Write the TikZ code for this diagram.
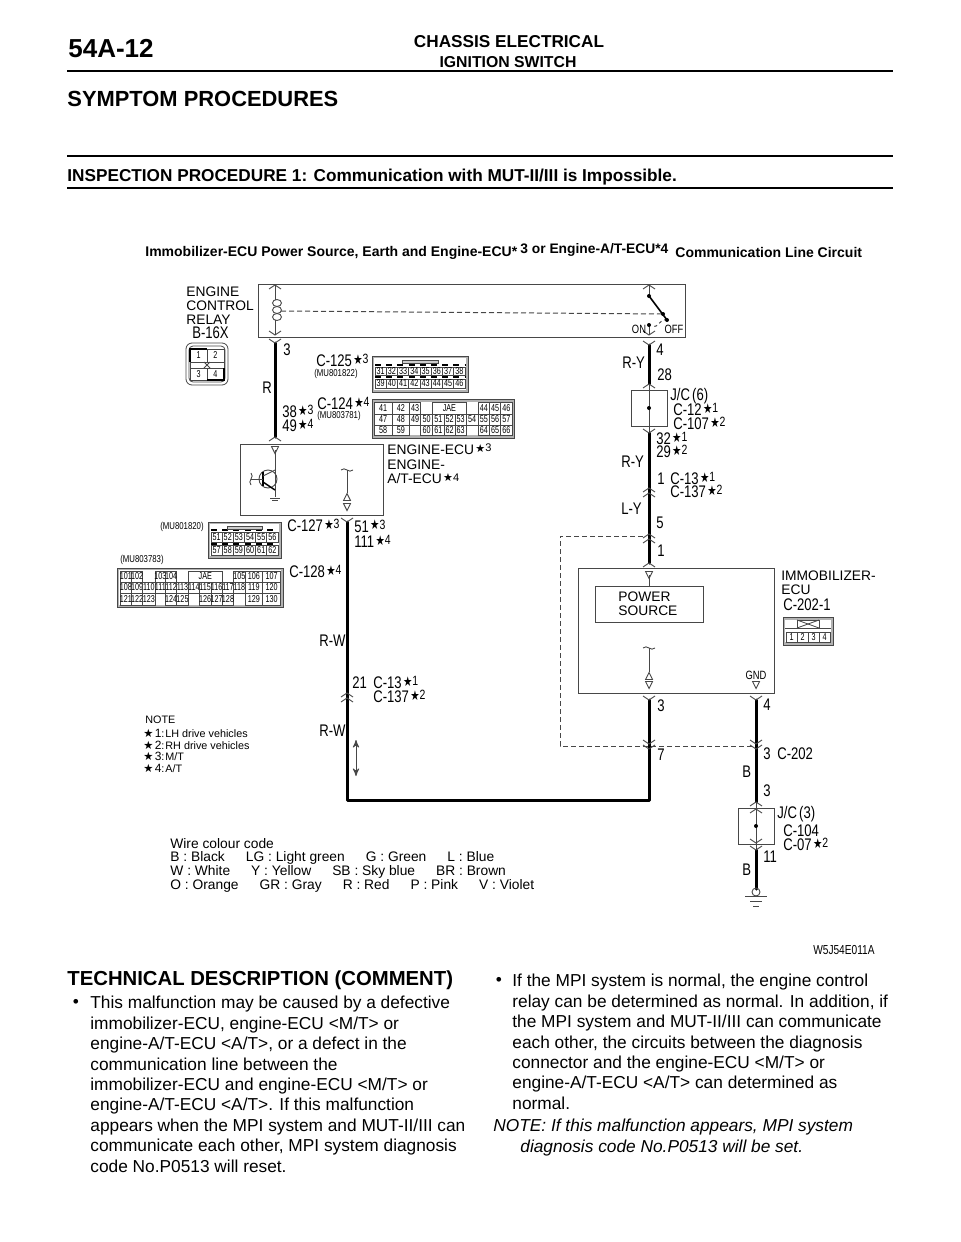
\documentclass[tikz,border=0pt]{standalone}
\usepackage{fontspec}
\usepackage{amsmath, color}
\setmainfont{Liberation Sans}
\newfontfamily\symfont{DejaVu Sans}
\usetikzlibrary{positioning}
\usetikzlibrary{calc}
\usetikzlibrary{arrows}
\definecolor{boxgray}{rgb}{0.28,0.28,0.28}
\newcommand{\stn}[1]{\hspace{.1em}\smash{{\symfont\raisebox{.3ex}{\scalebox{.8}{★}}}\raisebox{.4ex}{\scalebox{.8}{#1}}}}
\newcommand{\stb}[1]{{\symfont\scalebox{1.05}{★}}\hspace{.6pt}{\fontsize{6pt}{6pt}\selectfont #1}}
\newcommand{\pinrow}[4]{%
  \foreach \xa/\xb/\lab in {#4}{%
    \draw[pinline] (\xa,#2) rectangle (\xb,#3);
    \node[pinlab] (#1\lab) at ($(\xa,#2)!.5!(\xb,#3)$) {\lab};
  }%
}
\tikzset{
  pics/chevup/.style={code={\draw[thinwire] (-6,4) -- (0,0) -- (6,4);}},
  pics/chevdown/.style={code={\draw[thinwire] (-6,-4) -- (0,0) -- (6,-4);}},
  pics/dblup/.style={code={\draw[thinwire] (-6,4) -- (0,0) -- (6,4);
                           \draw[thinwire] (-6,9) -- (0,5) -- (6,9);}},
  pics/dbldown/.style={code={\draw[thinwire] (-6,-4) -- (0,0) -- (6,-4);
                             \draw[thinwire] (-6,-9) -- (0,-5) -- (6,-9);}},
  pics/tridown/.style={code={\draw[thinwire] (-3.5,-3.5) -- (3.5,-3.5) -- (0,3.5) -- cycle;}},
  pics/triup/.style={code={\draw[thinwire] (-3.5,3.5) -- (3.5,3.5) -- (0,-3.5) -- cycle;}},
  pics/wavy/.style={code={\draw[thinwire] (-6,0) .. controls (-2,-4) and (2,4) .. (6,0);}},
  pics/dotmark/.style={code={\fill (0,0) circle (2);}}
}
\begin{document}
\begin{tikzpicture}
	    [x=0.5pt, y=-0.5pt,
	    wire/.style={line width=1.5pt, line cap=round, line join=round},
	    thinwire/.style={line width=.45pt, draw=boxgray},
	    pinline/.style={line width=.4pt, draw=boxgray},
	    dashwire/.style={line width=.5pt, draw=boxgray, dash pattern=on 2.5pt off 1.5pt},
	    ecubox/.style={draw=boxgray, line width=.6pt, minimum size=0pt, inner sep=0pt, anchor=north west},
	    pinlab/.style={font=\fontsize{5pt}{5pt}\selectfont, xscale=.72, inner sep=0pt},
	    wirelab/.style={font=\fontsize{8.4pt}{9pt}\selectfont, xscale=.78, inner sep=0pt, anchor=west},
	    partlab/.style={font=\fontsize{5pt}{6pt}\selectfont, xscale=.78, inner sep=0pt, anchor=west},
	    namelab/.style={font=\fontsize{6.9pt}{7pt}\selectfont, inner sep=0pt, anchor=west},
	    notelab/.style={font=\fontsize{5.4pt}{6pt}\selectfont, inner sep=0pt, anchor=west},
	    colourlab/.style={font=\fontsize{6.9pt}{7pt}\selectfont, inner sep=0pt, anchor=west},
	    bodytext/.style={font=\fontsize{8.65pt}{10.2pt}\selectfont, align=left, inner sep=0pt, anchor=north west}]
	     \useasboundingbox (0,0) rectangle (960,1242);
	     % page head
	     \node[font=\fontsize{13pt}{14pt}\bfseries\selectfont, inner sep=0pt, anchor=west] (pageno) at (68,49) {54A-12};
	     \node[font=\fontsize{8.6pt}{9pt}\bfseries\selectfont, inner sep=0pt] (chassis) at (509,42) {CHASSIS ELECTRICAL};
	     \node[font=\fontsize{7.9pt}{8pt}\bfseries\selectfont, inner sep=0pt] (ignition) at (508,62) {IGNITION SWITCH};
	     \coordinate (ra) at (67,71); \coordinate (rb) at (893,71);
	     \coordinate (rc) at (67,156); \coordinate (rd) at (893,156);
	     \coordinate (re) at (67,188); \coordinate (rf) at (893,188);
	     \draw[line width=.7pt] (ra) -- (rb);
	     \draw[line width=.7pt] (rc) -- (rd);
	     \draw[line width=.7pt] (re) -- (rf);
	     \node[font=\fontsize{10.95pt}{11pt}\bfseries\selectfont, inner sep=0pt, anchor=west] (symptom) at (67,99) {SYMPTOM PROCEDURES};
	     \node[font=\fontsize{8.6pt}{9pt}\bfseries\selectfont, inner sep=0pt, anchor=west] (inspect) at (67,177) {INSPECTION PROCEDURE 1: Communication with MUT-II/III is Impossible.};
	     \node[font=\fontsize{7pt}{7pt}\bfseries\selectfont, inner sep=0pt, anchor=west] (capa) at (145,253) {Immobilizer-ECU Power Source, Earth and Engine-ECU*};
	     \node[font=\fontsize{6.9pt}{7pt}\bfseries\selectfont, inner sep=0pt, anchor=west] (capb) at (520,250) {3 or Engine-A/T-ECU*4};
	     \node[font=\fontsize{7pt}{7pt}\bfseries\selectfont, inner sep=0pt, anchor=west] (capc) at (675,252) {Communication Line Circuit};
	     % boxes
	     \node[ecubox, minimum width=213.5pt, minimum height=26.5pt] (relay) at (258,284) {};
	     \node[ecubox, minimum width=71.5pt, minimum height=35.5pt] (ecu) at (240,444) {};
	     \node[ecubox, minimum width=98pt, minimum height=62.5pt] (immo) at (578,568) {};
	     \node[ecubox, minimum width=54pt, minimum height=18pt] (power) at (595,586) {};
	     \node[ecubox, minimum width=18pt, minimum height=18pt] (jc6) at (631,390) {};
	     \node[ecubox, minimum width=18pt, minimum height=18pt] (jc3) at (738,808) {};
	     % relay inside
	     \coordinate (coiltop) at (275,285); \coordinate (coila) at (275,300);
	     \coordinate (coilb) at (275,320); \coordinate (coilbot) at (275,335);
	     \draw[thinwire] (coiltop) -- (coila);
	     \draw[thinwire] (coilb) -- (coilbot);
	     \foreach \yy in {303,310,317} \draw[thinwire] (277,\yy) ellipse (4.5 and 3.5);
	     \pic at (coiltop) {chevup};
	     \pic at (coilbot) {chevdown};
	     \coordinate (swa) at (649,296); \coordinate (swb) at (667,320);
	     \coordinate (swc) at (663,314); \coordinate (swd) at (649,325);
	     \coordinate (swtop) at (649,285); \coordinate (swbot) at (649,335);
	     \coordinate (coilm) at (281,311);
	     \draw[thinwire] (swtop) -- (swa);
	     \draw[thick] (swa) -- (swb);
	     \draw[thinwire] (swd) -- (swbot);
	     \draw[dashwire] (coilm) -- (swc);
	     \draw[dashwire, dash pattern=on 1.5pt off 1.5pt] (swb) to[out=150,in=-10] (652,327);
	     \pic at (swa) {dotmark};
	     \pic at (swb) {dotmark};
	     \pic at (swc) {dotmark};
	     \pic at (swd) {dotmark};
	     \pic at (swtop) {chevup};
	     \pic at (swbot) {chevdown};
	     \node[partlab, font=\fontsize{6pt}{7pt}\selectfont, anchor=center] (on) at (639,329) {ON};
	     \node[partlab, font=\fontsize{6pt}{7pt}\selectfont, anchor=center] (off) at (674,329) {OFF};
	     % engine-ecu inside
	     \coordinate (ta) at (275,450); \coordinate (tb) at (275,497);
	     \coordinate (tc) at (275,470); \coordinate (td) at (275,490);
	     \coordinate (te) at (263,476); \coordinate (tf) at (263,482);
	     \coordinate (tg) at (251,479); \coordinate (th) at (263,479);
	     \draw[thinwire] (268,479) circle (9);
	     \draw[thinwire] (ta) -- (tb);
	     \draw[line width=.7pt] (263,472) -- (263,486);
	     \draw[thinwire] (te) -- (tc);
	     \draw[line width=.7pt] (tf) -- (td);
	     \draw[thinwire] (tg) -- (th);
	     \draw[thinwire] (270,498) -- (280,498);
	     \draw[thinwire] (272,500) -- (278,500);
	     \pic at (ta) {tridown};
	     \pic[rotate=90] at (tg) {wavy};
	     \coordinate (ua) at (347,470); \coordinate (ub) at (347,493);
	     \draw[thinwire] (ua) -- (ub);
	     \pic at (ua) {wavy};
	     \pic at (347,497) {triup};
	     \pic at (347,507) {tridown};
	     % immobilizer inside
	     \coordinate (ia) at (649,575); \coordinate (ib) at (649,648); \coordinate (ic) at (649,672);
	     \draw[thinwire] (ia) -- (power.north -| ia);
	     \draw[thinwire] (ib) -- (ic);
	     \pic at (ia) {tridown};
	     \pic at (ib) {wavy};
	     \pic at (649,676) {triup};
	     \pic at (649,685) {tridown};
	     \pic at (756,685) {tridown};
	     % wires
	     \coordinate (wa) at (275,343); \coordinate (wb) at (275,437);
	     \draw[wire] (wa) -- (wb);
	     \pic at (wa) {chevdown};
	     \pic at (wb) {chevup};
	     \coordinate (wc) at (649,345); \coordinate (wd) at (649,384);
	     \coordinate (we) at (649,433); \coordinate (wf) at (649,408);
	     \coordinate (wg) at (649,563);
	     \draw[wire] (wc) -- (wd);
	     \draw[thinwire] (wd) -- (we);
	     \draw[wire] (we) -- (wg);
	     \pic at (wc) {chevdown};
	     \pic at (wd) {chevup};
	     \pic at (wf) {dotmark};
	     \pic at (we) {chevdown};
	     \pic at (649,488) {dblup};
	     \pic at (649,534) {dblup};
	     \pic at (wg) {chevup};
	     \coordinate (wh) at (347,522); \coordinate (wi) at (347,800); \coordinate (wj) at (649,800);
	     \coordinate (wk) at (649,700);
	     \draw[wire] (wh) -- (wi) -- (wj) -- (wk);
	     \pic at (wh) {chevdown};
	     \pic at (347,693) {dblup};
	     \pic at (wk) {chevdown};
	     \pic at (649,749) {dbldown};
	     \coordinate (wl) at (756,700); \coordinate (wm) at (756,802);
	     \coordinate (wn) at (756,850); \coordinate (wo) at (756,889);
	     \coordinate (wp) at (756,826);
	     \draw[wire] (wl) -- (wm);
	     \draw[thinwire] (wm) -- (wn);
	     \draw[wire] (wn) -- (wo);
	     \pic at (wl) {chevdown};
	     \pic at (756,749) {dbldown};
	     \pic at (wm) {chevup};
	     \pic at (756,809) {chevup};
	     \pic at (wp) {dotmark};
	     \pic at (756,843) {chevdown};
	     \pic at (wn) {chevdown};
	     % earth
	     \coordinate (ga) at (745,896); \coordinate (gb) at (767,896);
	     \coordinate (gc) at (750,901); \coordinate (gd) at (762,901);
	     \coordinate (ge) at (753,906); \coordinate (gf) at (759,906);
	     \draw[thinwire] (756,892) circle (4);
	     \draw[thinwire] (ga) -- (gb);
	     \draw[thinwire] (gc) -- (gd);
	     \draw[thinwire] (ge) -- (gf);
	     % dashed frame
	     \coordinate (da) at (643,536); \coordinate (db) at (560,536);
	     \coordinate (dc) at (560,746); \coordinate (dd) at (755,746);
	     \draw[dashwire] (da) -- (db) -- (dc) -- (dd);
	     % free arrow
	     \coordinate (aa) at (356,740); \coordinate (ab) at (356,776);
	     \draw[<->, >=stealth', thinwire] (aa) -- (ab);
	     % relay connector
	     \draw[pinline, fill=white, rounded corners=3pt] (186,343) rectangle (228,385);
	     \draw[pinline, rounded corners=2pt] (189,346) rectangle (225,382);
	     \pinrow{rl}{349}{362}{190/207/1,207/224/2}
	     \pinrow{rl}{368}{380}{190/207/3,207/224/4}
	     \draw[pinline] (190,362) rectangle (224,368);
	     \draw[pinline] (204,362) -- (210,368);
	     \draw[pinline] (204,368) -- (210,362);
	     \draw[line width=.8pt] (190,362) -- (190,349) -- (207,349);
	     \draw[line width=.8pt] (207,380) -- (224,380) -- (224,368);
	     % C-125
	     \draw[pinline, fill=gray!60] (372,356) rectangle (468,392);
	     \fill[white] (374,358) rectangle (466,390);
	     \draw[line width=1pt, dash pattern=on 3pt off 2.6pt] (375,365) -- (465,365);
	     \draw[line width=1pt, dash pattern=on 3pt off 2.6pt] (375,377) -- (465,377);
	     \draw[pinline, fill=gray!40] (402,360) rectangle (438,363);
	     \pinrow{ca}{367}{375.5}{375/386.25/31,386.25/397.5/32,397.5/408.75/33,408.75/420/34,420/431.25/35,431.25/442.5/36,442.5/453.75/37,453.75/465/38}
	     \pinrow{ca}{379}{388}{375/386.25/39,386.25/397.5/40,397.5/408.75/41,408.75/420/42,420/431.25/43,431.25/442.5/44,442.5/453.75/45,453.75/465/46}
	     % C-124
	     \draw[pinline, fill=gray!60] (372,399) rectangle (514,438);
	     \fill[white] (374,402) rectangle (512,435);
	     \pinrow{cb}{402}{414}{374/392.3/41,392.3/409.3/42,409.3/420.7/43,432.7/466/JAE,478.3/489.3/44,489.3/500.7/45,500.7/512/46}
	     \pinrow{cb}{414}{425}{374/392.3/47,392.3/409.3/48,409.3/420.7/49,420.7/432.7/50,432.7/444/51,444/455/52,455/466/53,466/478.3/54,478.3/489.3/55,489.3/500.7/56,500.7/512/57}
	     \pinrow{cb}{425}{435}{374/392.3/58,392.3/409.3/59,420.7/432.7/60,432.7/444/61,444/455/62,455/466/63,478.3/489.3/64,489.3/500.7/65,500.7/512/66}
	     % C-127
	     \draw[pinline, fill=gray!60] (208,522) rectangle (281,558);
	     \fill[white] (210,524) rectangle (279,556);
	     \draw[line width=1pt, dash pattern=on 3pt off 2.6pt] (211,530) -- (278,530);
	     \draw[line width=1pt, dash pattern=on 3pt off 2.6pt] (211,544) -- (278,544);
	     \draw[pinline, fill=gray!40] (227,526) rectangle (262,529);
	     \pinrow{cc}{532}{542}{211/222.2/51,222.2/233.3/52,233.3/244.5/53,244.5/255.7/54,255.7/266.8/55,266.8/278/56}
	     \pinrow{cc}{545}{555}{211/222.2/57,222.2/233.3/58,233.3/244.5/59,244.5/255.7/60,255.7/266.8/61,266.8/278/62}
	     % C-128
	     \draw[pinline, fill=gray!60] (117,568) rectangle (283,607);
	     \fill[white] (119,570) rectangle (281,605);
	     \pinrow{cd}{571}{582}{120/131.7/101,131.7/142.7/102,155/165.7/103,165.7/176.7/104,188.3/222.3/JAE,233.7/245/105,245/262.7/106,262.7/280.7/107}
	     \pinrow{cd}{582}{593}{120/131.7/108,131.7/142.7/109,142.7/155/110,155/165.7/111,165.7/176.7/112,176.7/188.3/113,188.3/199.3/114,199.3/211/115,211/222.3/116,222.3/233.7/117,233.7/245/118,245/262.7/119,262.7/280.7/120}
	     \pinrow{cd}{593}{605}{120/131.7/121,131.7/142.7/122,142.7/155/123,165.7/176.7/124,176.7/188.3/125,199.3/211/126,211/222.3/127,222.3/233.7/128,245/262.7/129,262.7/280.7/130}
	     % C-202-1
	     \draw[pinline, fill=gray!60] (783,617) rectangle (833,645);
	     \fill[white] (785,620) rectangle (831,642);
	     \draw[pinline] (785,628) -- (831,628);
	     \draw[pinline] (797,620) rectangle (819,628);
	     \draw[pinline] (797,620) -- (819,628);
	     \draw[pinline] (797,628) -- (819,620);
	     \pinrow{ce}{632}{642}{786/797/1,797/808/2,808/819/3,819/830/4}
	     % labels
	     \node[namelab] (lb1) at (186,292) {ENGINE};
	     \node[namelab] (lb2) at (186,306) {CONTROL};
	     \node[namelab] (lb3) at (186,320) {RELAY};
	     \node[wirelab] (lb4) at (192,333) {B-16X};
	     \node[wirelab] (lb5) at (283,350) {3};
	     \node[wirelab] (lb6) at (262,388) {R};
	     \node[wirelab] (lb7) at (316,361) {C-125\stn{3}};
	     \node[partlab] (lb8) at (314,374) {(MU801822)};
	     \node[wirelab] (lb9) at (317,404) {C-124\stn{4}};
	     \node[partlab] (lb10) at (317,416) {(MU803781)};
	     \node[wirelab] (lb11) at (282,412) {38\stn{3}};
	     \node[wirelab] (lb12) at (282,426) {49\stn{4}};
	     \node[namelab] (lb13) at (387,450) {ENGINE-ECU\stn{3}};
	     \node[namelab] (lb14) at (387,465) {ENGINE-};
	     \node[namelab] (lb15) at (387,479) {A/T-ECU\stn{4}};
	     \node[wirelab] (lb16) at (656,350) {4};
	     \node[wirelab] (lb17) at (622,363) {R-Y};
	     \node[wirelab] (lb18) at (657,375) {28};
	     \node[wirelab] (lb19) at (670,396) {J/C\,(6)};
	     \node[wirelab] (lb20) at (673,410) {C-12\stn{1}};
	     \node[wirelab] (lb21) at (673,424) {C-107\stn{2}};
	     \node[wirelab] (lb22) at (656,439) {32\stn{1}};
	     \node[wirelab] (lb23) at (656,452) {29\stn{2}};
	     \node[wirelab] (lb24) at (621,462) {R-Y};
	     \node[wirelab] (lb25) at (657,479) {1};
	     \node[wirelab] (lb26) at (670,479) {C-13\stn{1}};
	     \node[wirelab] (lb27) at (670,492) {C-137\stn{2}};
	     \node[wirelab] (lb28) at (621,509) {L-Y};
	     \node[wirelab] (lb29) at (656,523) {5};
	     \node[wirelab] (lb30) at (657,551) {1};
	     \node[namelab] (lb31) at (781,576) {IMMOBILIZER-};
	     \node[namelab] (lb32) at (781,590) {ECU};
	     \node[wirelab] (lb33) at (783,605) {C-202-1};
	     \node[namelab] (lb34) at (618,597) {POWER};
	     \node[namelab] (lb35) at (618,611) {SOURCE};
	     \node[partlab, font=\fontsize{6pt}{7pt}\selectfont, anchor=center] (lb36) at (756,675) {GND};
	     \node[wirelab] (lb37) at (657,706) {3};
	     \node[wirelab] (lb38) at (763,705) {4};
	     \node[wirelab] (lb39) at (657,755) {7};
	     \node[wirelab] (lb40) at (763,754) {3};
	     \node[wirelab] (lb41) at (777,754) {C-202};
	     \node[wirelab] (lb42) at (742,772) {B};
	     \node[wirelab] (lb43) at (763,791) {3};
	     \node[wirelab] (lb44) at (777,814) {J/C\,(3)};
	     \node[wirelab] (lb45) at (783,831) {C-104};
	     \node[wirelab] (lb46) at (783,845) {C-07\stn{2}};
	     \node[wirelab] (lb47) at (763,857) {11};
	     \node[wirelab] (lb48) at (742,870) {B};
	     \node[partlab] (lb49) at (160,527) {(MU801820)};
	     \node[partlab] (lb50) at (120,560) {(MU803783)};
	     \node[wirelab] (lb51) at (287,526) {C-127\stn{3}};
	     \node[wirelab] (lb52) at (289,572) {C-128\stn{4}};
	     \node[wirelab] (lb53) at (354,527) {51\stn{3}};
	     \node[wirelab] (lb54) at (354,542) {111\stn{4}};
	     \node[wirelab] (lb55) at (319,641) {R-W};
	     \node[wirelab] (lb56) at (352,683) {21};
	     \node[wirelab] (lb57) at (373,683) {C-13\stn{1}};
	     \node[wirelab] (lb58) at (373,697) {C-137\stn{2}};
	     \node[wirelab] (lb59) at (319,731) {R-W};
	     \node[partlab, font=\fontsize{6.5pt}{7pt}\selectfont, xscale=1] (lb60) at (813,950) {W5J54E011A};
	     % note
	     \node[notelab] (nt0) at (145,720) {NOTE};
	     \node[notelab] (nt1) at (143,733) {\stb{1}:\hspace{.5pt}LH drive vehicles};
	     \node[notelab] (nt2) at (143,745) {\stb{2}:\hspace{.5pt}RH drive vehicles};
	     \node[notelab] (nt3) at (143,756) {\stb{3}:\hspace{.5pt}M/T};
	     \node[notelab] (nt4) at (143,768) {\stb{4}:\hspace{.5pt}A/T};
	     % colour code
	     \node[colourlab] (cc0) at (170,844) {Wire colour code};
	     \node[colourlab] (cc1) at (170,858) {B : Black\hspace{10.5pt}LG : Light green\hspace{10.5pt}G : Green\hspace{10.5pt}L : Blue};
	     \node[colourlab] (cc2) at (170,872) {W : White\hspace{10.5pt}Y : Yellow\hspace{10.5pt}SB : Sky blue\hspace{10.5pt}BR : Brown};
	     \node[colourlab] (cc3) at (170,886) {O : Orange\hspace{10.5pt}GR : Gray\hspace{10.5pt}R : Red\hspace{10.5pt}P : Pink\hspace{10.5pt}V : Violet};
	     % text below
	     \node[font=\fontsize{10.15pt}{11pt}\bfseries\selectfont, inner sep=0pt, anchor=west] (techhead) at (67,980) {TECHNICAL DESCRIPTION (COMMENT)};
	     \node[font=\fontsize{8.65pt}{9pt}\selectfont, inner sep=0pt] (bulla) at (76,1003) {\textbullet};
	     \node[bodytext] (leftbody) at (90,996) {This malfunction may be caused by a defective\\
	       immobilizer-ECU, engine-ECU <M/T> or\\
	       engine-A/T-ECU <A/T>, or a defect in the\\
	       communication line between the\\
	       immobilizer-ECU and engine-ECU <M/T> or\\
	       engine-A/T-ECU <A/T>. If this malfunction\\
	       appears when the MPI system and MUT-II/III can\\
	       communicate each other, MPI system diagnosis\\
	       code No.P0513 will reset.};
	     \node[font=\fontsize{8.65pt}{9pt}\selectfont, inner sep=0pt] (bullb) at (499,981) {\textbullet};
	     \node[bodytext] (rightbody) at (512,974) {If the MPI system is normal, the engine control\\
	       relay can be determined as normal. In addition, if\\
	       the MPI system and MUT-II/III can communicate\\
	       each other, the circuits between the diagnosis\\
	       connector and the engine-ECU <M/T> or\\
	       engine-A/T-ECU <A/T> can determined as\\
	       normal.};
	     \node[bodytext, font=\fontsize{8.65pt}{10.2pt}\itshape\selectfont] (notea) at (493,1119) {NOTE: If this malfunction appears, MPI system};
	     \node[bodytext, font=\fontsize{8.65pt}{10.2pt}\itshape\selectfont] (noteb) at (520,1140) {diagnosis code No.P0513 will be set.};
	\end{tikzpicture}
\end{document}
